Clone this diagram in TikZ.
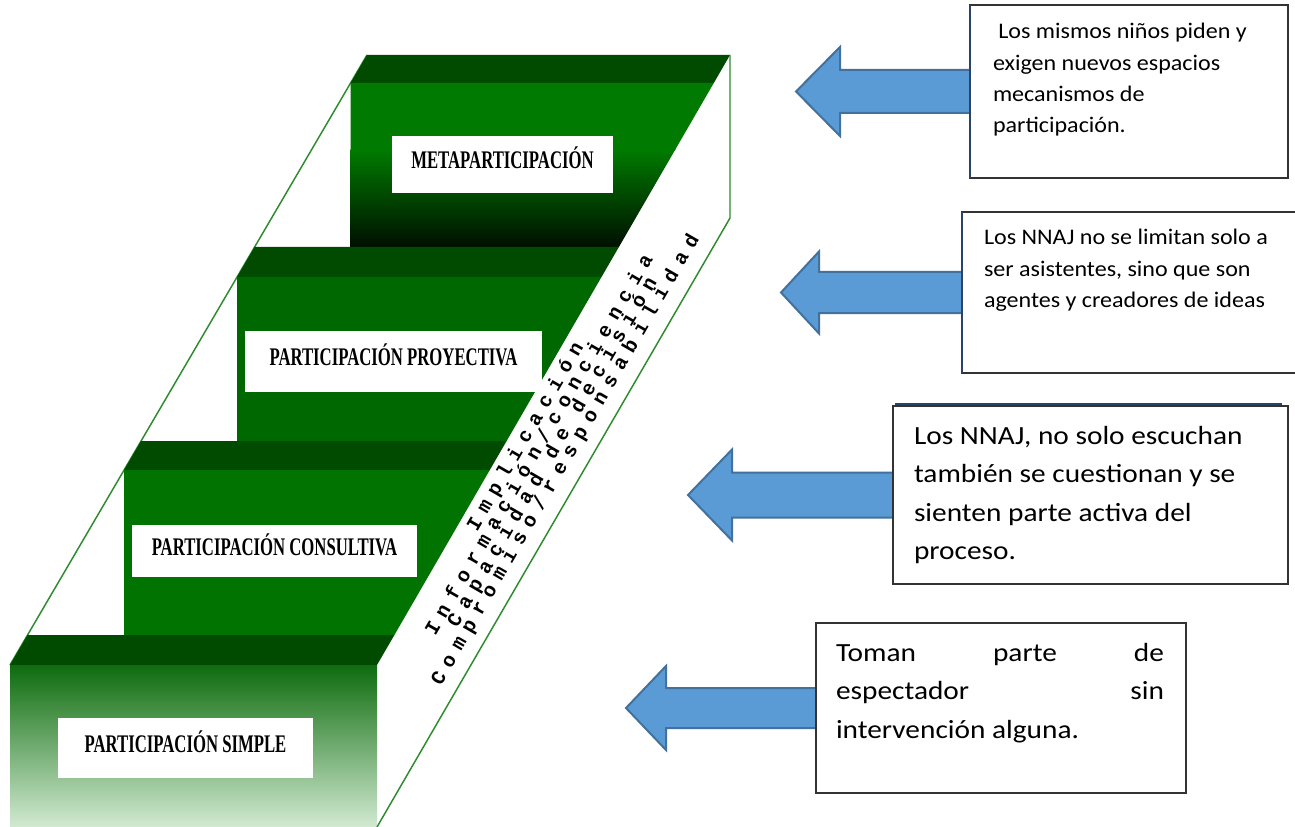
\documentclass[tikz,border=0pt]{standalone}
\usepackage{fontspec}
\usetikzlibrary{calc}
\newfontfamily\boxfontA{Carlito}[FakeStretch=1.08]
\newfontfamily\boxfontB{Carlito}[FakeStretch=1.12]
\newfontfamily\stepfont{Liberation Serif}[FakeStretch=0.66]
\newfontfamily\diagfont{Liberation Mono}[LetterSpace=41]
\definecolor{banddark}{HTML}{004B00}
\definecolor{metagreen}{HTML}{007A00}
\definecolor{proygreen}{HTML}{006800}
\definecolor{consgreen}{HTML}{007300}
\definecolor{edgegreen}{HTML}{2E8B2E}
\definecolor{arrowfill}{HTML}{5B9BD5}
\definecolor{arrowline}{HTML}{41719C}
\definecolor{navyedge}{HTML}{2A4468}
\pgfdeclarelayer{background}
\pgfsetlayers{background,main}
\tikzset{
  band/.style={fill=banddark},
  edge/.style={draw=edgegreen, line width=1.1pt},
  labelbox/.style={fill=white, inner sep=0pt, outer sep=0pt, anchor=north west,
    font=\stepfont\bfseries\fontsize{19pt}{20pt}\selectfont, text height=0.66em, text depth=0pt},
  callout/.style={draw=black!80, line width=0.9pt, fill=white, inner sep=0pt, outer sep=0pt, anchor=north west},
  calltext/.style={anchor=base west, inner sep=0pt, outer sep=0pt},
  blockarrow/.style={fill=arrowfill, draw=arrowline, line width=1.5pt, line join=miter},
  diag/.style={font=\diagfont\bfseries\fontsize{15pt}{16pt}\selectfont, rotate=60, anchor=base, inner sep=0pt},
}
% #1 node, #2 total length, #3 head length, #4 head half height, #5 shaft half height (px)
\newcommand\blockarrowto[5]{%
  \begin{pgfonlayer}{background}
  \draw[blockarrow] ($(#1.west)+(2,{-#5})$) -- ++({-(#2-#3+2)},0) -- ++(0,{-(#4-#5)})
     -- ++({-#3},#4) -- ++(#3,#4) -- ++(0,{-(#4-#5)}) -- ++({#2-#3+2},0) -- cycle;
  \end{pgfonlayer}}
\begin{document}
\begin{tikzpicture}[x=0.75pt,y=-0.75pt]
\useasboundingbox (0,0) rectangle (1295,827);
\begin{pgfonlayer}{background}
\fill[white] (0,0) rectangle (1295,827);
\end{pgfonlayer}

% ---------- staircase ----------
\draw[edge] (367,55) -- (10,665);
% top step
\fill[band] (367,55) -- (730,55) -- (713.8,83) -- (350.6,83) -- cycle;
\begin{scope}
  \clip (350.6,83) -- (713.8,83) -- (618.9,247) -- (350.6,247) -- cycle;
  \fill[metagreen] (340,82) rectangle (720,151);
  \shade[top color=metagreen, bottom color={rgb,255:red,0;green,14;blue,0}] (340,150) rectangle (720,248);
\end{scope}
% proyectiva
\fill[band] (254.6,247) -- (618.9,247) -- (601.5,277) -- (237.1,277) -- cycle;
\fill[proygreen] (237.1,277) -- (601.5,277) -- (506.6,441) -- (237.1,441) -- cycle;
% consultiva
\fill[band] (141.1,441) -- (506.6,441) -- (489.8,470) -- (124.1,470) -- cycle;
\fill[consgreen] (124.1,470) -- (489.8,470) -- (394.4,635) -- (124.1,635) -- cycle;
% simple
\fill[band] (27.6,635) -- (394.4,635) -- (377,665) -- (10,665) -- cycle;
\shade[top color={rgb,255:red,14;green,108;blue,14}, bottom color={rgb,255:red,210;green,234;blue,210}]
  (10,665) rectangle (377,827);
% right face
\draw[edge] (730,55) -- (730,218) -- (377,827);

% step labels
\node[labelbox, minimum width=165.75pt, minimum height=42.75pt] (meta) at (392,136) {METAPARTICIPACIÓN};
\node[labelbox, minimum width=222.75pt, minimum height=45.75pt] (proy) at (245,331) {PARTICIPACIÓN PROYECTIVA};
\node[labelbox, minimum width=213.75pt, minimum height=39pt] (cons) at (132,525) {PARTICIPACIÓN CONSULTIVA};
\node[labelbox, minimum width=191.25pt, minimum height=45pt] (simp) at (58,718) {PARTICIPACIÓN SIMPLE};

% diagonal texts
\node[diag] (d1) at (530.5,439.6) {Implicación};
\node[diag] (d2) at (544.4,447.6) {Información/conciencia};
\node[diag] (d3) at (557.4,455.1) {Capacidad de decisión};
\node[diag] (d4) at (570.3,462.6) {Compromiso/responsabilidad};

% ---------- callouts ----------
\node[callout, minimum width=238.5pt, minimum height=129.75pt] (b1) at (970,5) {};
\node[callout, minimum width=255pt, minimum height=120.75pt] (b2) at (962,212) {};
\node[callout, minimum width=296.25pt, minimum height=133.5pt] (b3) at (893,406) {};
\node[callout, minimum width=277.5pt, minimum height=127.5pt] (b4) at (816,623) {};
\draw[navyedge, line width=2.2pt] (b1.north west) -- (b1.south west);
\draw[navyedge, line width=1.6pt] (b2.north west) -- (b2.south west);
\draw[navyedge, line width=2.2pt] ($(b3.north west)+(2,-2)$) -- ($(b3.north east)+(-6,-2)$);

\blockarrowto{b1}{174}{44}{44.5}{21.5}
\blockarrowto{b2}{181}{38}{41}{20.5}
\blockarrowto{b3}{205}{44}{45.5}{22.5}
\blockarrowto{b4}{190}{40}{42}{20}

\node[calltext] (t1) at (993,39) {\boxfontA\fontsize{16.7pt}{23.5pt}\selectfont
  \vtop{\hbox{\hspace*{4pt}Los mismos niños piden y}\hbox{exigen nuevos espacios}\hbox{mecanismos de}\hbox{participación.}}};
\node[calltext] (t2) at (984,245) {\boxfontA\fontsize{16.7pt}{23.5pt}\selectfont
  \vtop{\hbox{Los NNAJ no se limitan solo a}\hbox{ser asistentes, sino que son}\hbox{agentes y creadores de ideas}}};
\node[calltext] (t3) at (914,444) {\boxfontB\fontsize{19.65pt}{28.9pt}\selectfont
  \vtop{\hbox{Los NNAJ, no solo escuchan}\hbox{también se cuestionan y se}\hbox{sienten parte activa del}\hbox{proceso.}}};
\node[calltext] (t4) at (836,661) {\boxfontB\fontsize{19.65pt}{28.9pt}\selectfont
  \vtop{\hbox to 246pt{Toman\hfill parte\hfill de}\hbox to 246pt{espectador\hfill sin}\hbox{intervención alguna.}}};
\end{tikzpicture}
\end{document}
